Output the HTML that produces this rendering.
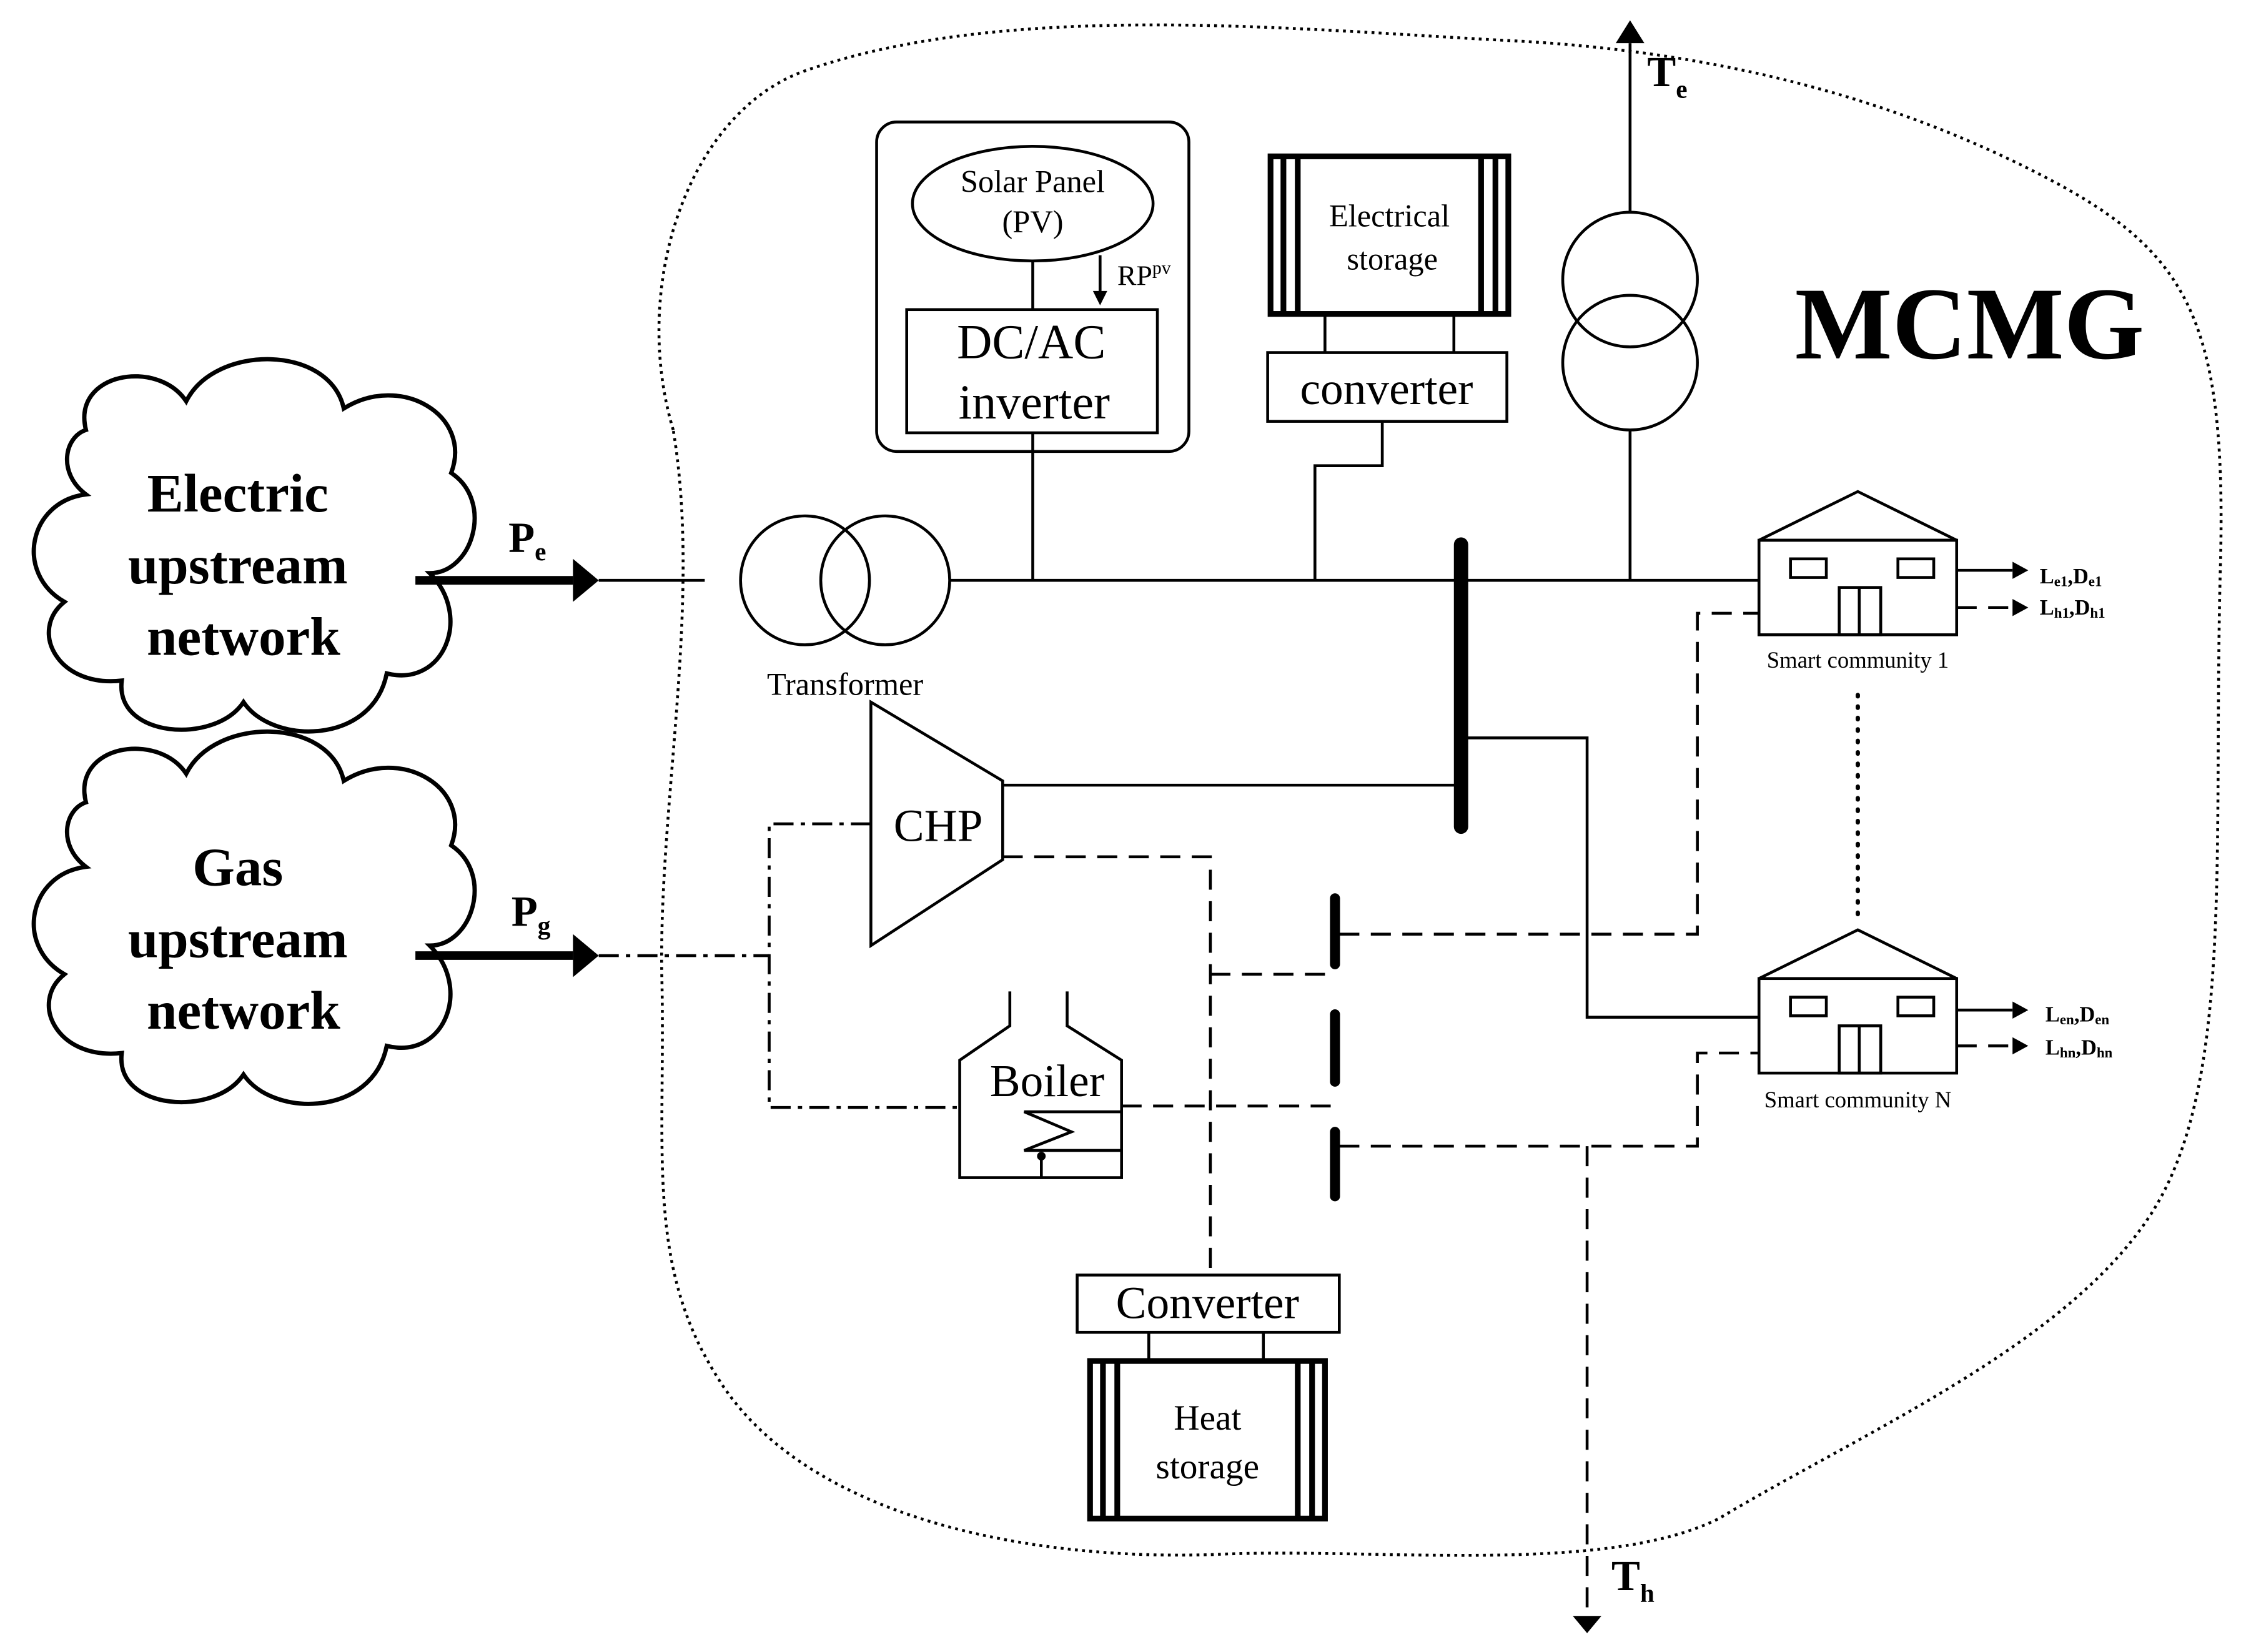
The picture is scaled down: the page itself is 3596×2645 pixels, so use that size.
<!DOCTYPE html>
<html><head><meta charset="utf-8"><style>html,body{margin:0;padding:0;background:#fff}svg{display:block}</style></head>
<body>
<svg width="3596" height="2645" viewBox="0 0 1568 1153" xmlns="http://www.w3.org/2000/svg" font-family="Liberation Serif, serif">
<rect width="1568" height="1153" fill="#fff"/>
<path d="M470,300 C440,200 480,80 560,50 C700,0 900,20 1050,28 C1200,35 1330,70 1440,130 C1530,180 1555,230 1550,400 C1545,600 1560,760 1500,850 C1440,940 1300,1000 1200,1060 C1120,1100 960,1080 850,1085 C720,1090 560,1060 500,960 C450,880 465,800 462,680 C460,560 490,420 470,300 Z" fill="none" stroke="#000" stroke-width="2" stroke-dasharray="2,3"/>
<g fill="#fff" stroke="#000" stroke-width="3">
<path d="M60,300 C50,260 110,250 130,280 C150,240 230,240 240,285 C280,260 330,290 315,330 C345,350 330,400 300,400 C330,430 310,480 270,470 C260,520 190,520 170,490 C150,520 80,515 85,475 C40,480 20,440 45,420 C10,400 20,350 60,345 C40,330 45,305 60,300 Z"/>
<path d="M60,560 C50,520 110,510 130,540 C150,500 230,500 240,545 C280,520 330,550 315,590 C345,610 330,660 300,660 C330,690 310,740 270,730 C260,780 190,780 170,750 C150,780 80,775 85,735 C40,740 20,700 45,680 C10,660 20,610 60,605 C40,590 45,565 60,560 Z"/>
</g>
<g font-weight="bold" font-size="38" text-anchor="middle">
<text x="166" y="357">Electric</text><text x="166" y="407">upstream</text><text x="170" y="457">network</text>
<text x="166" y="618">Gas</text><text x="166" y="668">upstream</text><text x="170" y="718">network</text>
</g>
<line x1="290" y1="405" x2="400" y2="405" stroke="#000" stroke-width="6"/>
<polygon points="400,390 418,405 400,420" fill="#000"/>
<line x1="290" y1="667" x2="400" y2="667" stroke="#000" stroke-width="6"/>
<polygon points="400,652 418,667 400,682" fill="#000"/>
<g font-weight="bold" font-size="30"><text x="355" y="385">P<tspan font-size="18" dy="6">e</tspan></text><text x="357" y="646">P<tspan font-size="18" dy="6">g</tspan></text></g>
<g stroke="#000" stroke-width="2" fill="none">
<line x1="418" y1="405" x2="492" y2="405"/>
<circle cx="562" cy="405" r="45"/><circle cx="618" cy="405" r="45"/>
<line x1="663" y1="405" x2="1228" y2="405"/>
<rect x="612" y="85" width="218" height="230" rx="14"/>
<ellipse cx="721" cy="142" rx="84" ry="40"/>
<line x1="721" y1="182" x2="721" y2="216"/>
<rect x="633" y="216" width="175" height="86"/>
<line x1="721" y1="302" x2="721" y2="405"/>
<line x1="768" y1="178" x2="768" y2="205"/>
<rect x="887" y="109" width="166" height="110" stroke-width="4"/>
<line x1="896" y1="109" x2="896" y2="219" stroke-width="4"/>
<line x1="906" y1="109" x2="906" y2="219" stroke-width="4"/>
<line x1="1044" y1="109" x2="1044" y2="219" stroke-width="4"/>
<line x1="1034" y1="109" x2="1034" y2="219" stroke-width="4"/>
<line x1="925" y1="219" x2="925" y2="246"/><line x1="1015" y1="219" x2="1015" y2="246"/>
<rect x="885" y="246" width="167" height="48"/>
<polyline points="965,294 965,325 918,325 918,405"/>
<circle cx="1138" cy="195" r="47"/><circle cx="1138" cy="253" r="47"/>
<line x1="1138" y1="148" x2="1138" y2="30"/>
<line x1="1138" y1="300" x2="1138" y2="405"/>
<polygon points="608,490 700,545 700,600 608,660"/>
<line x1="700" y1="548" x2="1020" y2="548"/>
<polyline points="1024,515 1108,515 1108,710 1228,710"/>
<polygon points="1228,377 1297,343 1366,377"/>
<rect x="1228" y="377" width="138" height="66"/>
<rect x="1250" y="390" width="25" height="13"/><rect x="1325" y="390" width="25" height="13"/>
<rect x="1284" y="410" width="29" height="33"/><line x1="1298" y1="410" x2="1298" y2="443"/>
<polygon points="1228,683 1297,649 1366,683"/>
<rect x="1228" y="683" width="138" height="66"/>
<rect x="1250" y="696" width="25" height="13"/><rect x="1325" y="696" width="25" height="13"/>
<rect x="1284" y="716" width="29" height="33"/><line x1="1298" y1="716" x2="1298" y2="749"/>
<line x1="1366" y1="398" x2="1405" y2="398"/>
<line x1="1366" y1="705" x2="1405" y2="705"/>
<polyline points="705,692 705,716 670,740 670,822 783,822 783,740 745,716 745,692"/>
<polyline points="783,776 715,776 748,790 715,803 783,803"/>
<line x1="727" y1="808" x2="727" y2="822"/>
<rect x="752" y="890" width="183" height="40"/>
<line x1="802" y1="930" x2="802" y2="950"/><line x1="882" y1="930" x2="882" y2="950"/>
<rect x="761" y="950" width="164" height="110" stroke-width="4"/>
<line x1="770" y1="950" x2="770" y2="1060" stroke-width="4"/>
<line x1="780" y1="950" x2="780" y2="1060" stroke-width="4"/>
<line x1="916" y1="950" x2="916" y2="1060" stroke-width="4"/>
<line x1="906" y1="950" x2="906" y2="1060" stroke-width="4"/>
</g>
<circle cx="727" cy="807" r="3" fill="#000"/>
<polygon points="763,203 768,213 773,203" fill="#000"/>
<polygon points="1128,30 1138,14 1148,30" fill="#000"/>
<polygon points="1405,392 1416,398 1405,404" fill="#000"/>
<polygon points="1405,418 1416,424 1405,430" fill="#000"/>
<polygon points="1405,699 1416,705 1405,711" fill="#000"/>
<polygon points="1405,724 1416,730 1405,736" fill="#000"/>
<polygon points="1098,1128 1108,1140 1118,1128" fill="#000"/>
<g stroke="#000" stroke-linecap="round">
<line x1="1020" y1="380" x2="1020" y2="577" stroke-width="10"/>
<line x1="932" y1="627" x2="932" y2="673" stroke-width="7"/>
<line x1="932" y1="708" x2="932" y2="755" stroke-width="7"/>
<line x1="932" y1="790" x2="932" y2="835" stroke-width="7"/>
</g>
<g stroke="#000" stroke-width="2" fill="none" stroke-dasharray="14,8">
<polyline points="935,652 1185,652 1185,428 1228,428"/>
<polyline points="935,800 1185,800 1185,735 1228,735"/>
<polyline points="700,598 845,598 845,890"/>
<line x1="845" y1="680" x2="932" y2="680"/>
<line x1="783" y1="772" x2="932" y2="772"/>
<line x1="1108" y1="800" x2="1108" y2="1128"/>
<line x1="1366" y1="424" x2="1405" y2="424"/>
<line x1="1366" y1="730" x2="1405" y2="730"/>
</g>
<g stroke="#000" stroke-width="2" fill="none" stroke-dasharray="14,5,3,5">
<polyline points="418,667 537,667"/>
<polyline points="608,575 537,575 537,773 670,773"/>
</g>
<line x1="1297" y1="485" x2="1297" y2="640" stroke="#000" stroke-width="3" stroke-dasharray="1,7" stroke-linecap="round"/>
<g text-anchor="middle" fill="#000">
<text x="721" y="134" font-size="22">Solar Panel</text>
<text x="721" y="162" font-size="22">(PV)</text>
<text x="720" y="250" font-size="34">DC/AC</text>
<text x="722" y="292" font-size="34">inverter</text>
<text x="970" y="158" font-size="22">Electrical</text>
<text x="972" y="188" font-size="22">storage</text>
<text x="968" y="282" font-size="32">converter</text>
<text x="590" y="485" font-size="22">Transformer</text>
<text x="655" y="587" font-size="32">CHP</text>
<text x="731" y="765" font-size="32">Boiler</text>
<text x="843" y="920" font-size="32">Converter</text>
<text x="843" y="998" font-size="25">Heat</text>
<text x="843" y="1032" font-size="25">storage</text>
<text x="1297" y="466" font-size="16">Smart community 1</text>
<text x="1297" y="773" font-size="16">Smart community N</text>
<text x="1375" y="250" font-size="72" font-weight="bold">MCMG</text>
</g>
<text x="780" y="199" font-size="20">RP<tspan font-size="13" dy="-8">pv</tspan></text>
<text x="1150" y="60" font-size="30" font-weight="bold">T<tspan font-size="18" dy="8">e</tspan></text>
<text x="1125" y="1110" font-size="30" font-weight="bold">T<tspan font-size="18" dy="8">h</tspan></text>
<g font-size="15" font-weight="bold">
<text x="1424" y="407">L<tspan font-size="10" dy="2">e1</tspan><tspan dy="-2">,D</tspan><tspan font-size="10" dy="2">e1</tspan></text>
<text x="1424" y="429">L<tspan font-size="10" dy="2">h1</tspan><tspan dy="-2">,D</tspan><tspan font-size="10" dy="2">h1</tspan></text>
<text x="1428" y="713">L<tspan font-size="10" dy="2">en</tspan><tspan dy="-2">,D</tspan><tspan font-size="10" dy="2">en</tspan></text>
<text x="1428" y="736">L<tspan font-size="10" dy="2">hn</tspan><tspan dy="-2">,D</tspan><tspan font-size="10" dy="2">hn</tspan></text>
</g>
</svg>
</body></html>
